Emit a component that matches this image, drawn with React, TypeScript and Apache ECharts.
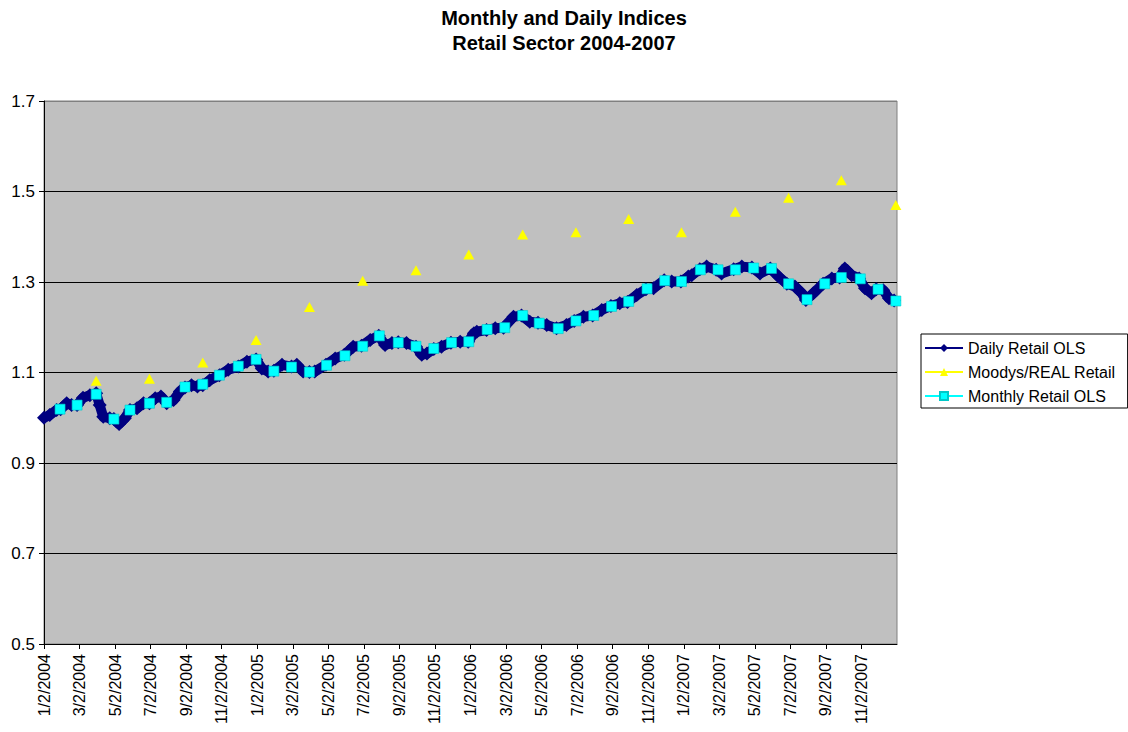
import React, { useEffect, useRef } from "react";
import * as echarts from "echarts";

const TITLE_LINES = ["Monthly and Daily Indices", "Retail Sector 2004-2007"];
const SERIES_NAMES = ["Daily Retail OLS", "Moodys/REAL Retail", "Monthly Retail OLS"];
const SERIES_COLORS = ["#000080", "#FFFF00", "#00FFFF"];
const Y_MIN = 0.5;
const Y_MAX = 1.7;
const Y_STEP = 0.2;
const X_MIN_MONTHS = 0; // 1/2/2004
const X_MAX_MONTHS = 48; // 1/2/2008
const X_STEP_MONTHS = 2;

const DAILY_DATES = [
  "1/2/2004", "1/12/2004", "1/24/2004", "1/31/2004", "2/10/2004", "2/18/2004", "2/27/2004",
  "3/8/2004", "3/20/2004", "3/31/2004", "4/6/2004", "4/12/2004", "4/23/2004", "4/30/2004",
  "5/9/2004", "5/19/2004", "5/28/2004", "6/9/2004", "6/20/2004", "6/30/2004", "7/10/2004",
  "7/20/2004", "7/30/2004", "8/11/2004", "8/22/2004", "8/31/2004", "9/11/2004", "9/21/2004",
  "9/30/2004", "10/12/2004", "10/29/2004", "11/13/2004", "11/30/2004", "12/15/2004", "12/31/2004",
  "1/10/2005", "1/21/2005", "1/31/2005", "2/13/2005", "2/28/2005", "3/9/2005", "3/20/2005",
  "3/31/2005", "4/9/2005", "4/28/2005", "5/14/2005", "5/30/2005", "6/14/2005", "6/28/2005",
  "7/13/2005", "7/28/2005", "8/8/2005", "8/20/2005", "8/31/2005", "9/14/2005", "9/30/2005",
  "10/10/2005", "10/19/2005", "10/31/2005", "11/13/2005", "11/29/2005", "12/15/2005", "12/29/2005",
  "1/8/2006", "1/13/2006", "1/30/2006", "2/13/2006", "2/26/2006", "3/15/2006", "3/29/2006",
  "4/12/2006", "4/26/2006", "5/11/2006", "5/28/2006", "6/14/2006", "6/27/2006", "7/13/2006",
  "7/29/2006", "8/14/2006", "8/30/2006", "9/14/2006", "9/27/2006", "10/13/2006", "10/29/2006",
  "11/11/2006", "11/29/2006", "12/12/2006", "12/28/2006", "1/10/2007", "1/16/2007", "1/30/2007",
  "2/10/2007", "2/25/2007", "3/6/2007", "3/27/2007", "4/10/2007", "4/27/2007", "5/11/2007",
  "5/29/2007", "6/12/2007", "6/26/2007", "7/10/2007", "7/22/2007", "7/29/2007", "8/11/2007",
  "8/28/2007", "9/12/2007", "9/25/2007", "10/4/2007", "10/16/2007", "10/29/2007", "11/8/2007",
  "11/19/2007", "11/27/2007", "12/9/2007", "12/19/2007", "12/28/2007",
];
const DAILY_VALUES = [
  1.0, 1.006, 1.017, 1.019, 1.032, 1.028, 1.028,
  1.044, 1.05, 1.054, 1.028, 1.002, 0.999, 0.997,
  0.986, 0.999, 1.017, 1.021, 1.032, 1.032, 1.043,
  1.047, 1.032, 1.039, 1.058, 1.067, 1.072, 1.069,
  1.072, 1.083, 1.094, 1.106, 1.113, 1.124, 1.129,
  1.109, 1.102, 1.104, 1.117, 1.113, 1.117, 1.102,
  1.101, 1.102, 1.117, 1.131, 1.139, 1.157, 1.159,
  1.172, 1.181, 1.161, 1.165, 1.167, 1.165, 1.157,
  1.139, 1.142, 1.152, 1.157, 1.166, 1.168, 1.168,
  1.187, 1.19, 1.194, 1.198, 1.199, 1.223, 1.226,
  1.212, 1.21, 1.205, 1.198, 1.205, 1.214, 1.223,
  1.226, 1.238, 1.247, 1.253, 1.256, 1.271, 1.284,
  1.286, 1.304, 1.301, 1.301, 1.312, 1.315, 1.328,
  1.334, 1.327, 1.319, 1.328, 1.334, 1.332, 1.319,
  1.33, 1.312, 1.296, 1.29, 1.275, 1.26, 1.275,
  1.296, 1.308, 1.31, 1.33, 1.315, 1.308, 1.286,
  1.275, 1.284, 1.282, 1.264, 1.259,
];

const MONTHLY_DATES = [
  "1/30/2004", "2/27/2004", "3/31/2004", "4/30/2004", "5/28/2004", "6/30/2004",
  "7/30/2004", "8/31/2004", "9/30/2004", "10/29/2004", "11/30/2004", "12/31/2004",
  "1/31/2005", "2/28/2005", "3/31/2005", "4/29/2005", "5/31/2005", "6/30/2005",
  "7/29/2005", "8/31/2005", "9/30/2005", "10/31/2005", "11/30/2005", "12/30/2005",
  "1/31/2006", "2/28/2006", "3/31/2006", "4/28/2006", "5/31/2006", "6/30/2006",
  "7/31/2006", "8/31/2006", "9/29/2006", "10/31/2006", "11/30/2006", "12/29/2006",
  "1/31/2007", "2/28/2007", "3/30/2007", "4/30/2007", "5/31/2007", "6/29/2007",
  "7/31/2007", "8/31/2007", "9/28/2007", "10/31/2007", "11/30/2007", "12/31/2007",
];
const MONTHLY_VALUES = [
  1.019, 1.028, 1.052, 0.997, 1.017, 1.032,
  1.034, 1.068, 1.074, 1.094, 1.114, 1.129,
  1.103, 1.112, 1.101, 1.116, 1.137, 1.158,
  1.181, 1.166, 1.158, 1.153, 1.166, 1.168,
  1.195, 1.199, 1.226, 1.209, 1.197, 1.214,
  1.226, 1.246, 1.257, 1.285, 1.303, 1.301,
  1.327, 1.327, 1.327, 1.331, 1.33, 1.296,
  1.261, 1.296, 1.31, 1.307, 1.284, 1.258,
];

const QUARTER_DATES = [
  "3/31/2004", "6/30/2004", "9/30/2004", "12/31/2004",
  "3/31/2005", "6/30/2005", "9/30/2005", "12/30/2005",
  "3/31/2006", "6/30/2006", "9/29/2006", "12/29/2006",
  "3/30/2007", "6/29/2007", "9/28/2007", "12/31/2007",
];
const MOODYS_VALUES = [
  1.082, 1.086, 1.122, 1.172,
  1.245, 1.303, 1.326, 1.361,
  1.405, 1.41, 1.439, 1.41,
  1.455, 1.486, 1.525, 1.47,
];

const BASE_YEAR = 2004;

function monthsFromStart(date: string): number {
  const [m, d, y] = date.split("/").map(Number);
  const dim = new Date(y, m, 0).getDate();
  return (y - BASE_YEAR) * 12 + (m - 1) + (d - 2) / dim;
}

function tickLabel(t: number): string {
  const k = Math.round(t);
  const y = BASE_YEAR + Math.floor(k / 12);
  const m = (k % 12) + 1;
  return `${m}/2/${y}`;
}

const FONT = "'Liberation Sans', Arial, sans-serif";

export default function App() {
  const ref = useRef<HTMLDivElement>(null);

  useEffect(() => {
    document.body.style.margin = "0";
    if (!ref.current) return;
    const chart = echarts.init(ref.current, null, { renderer: "svg" });

    const daily = DAILY_DATES.map((d, i) => [monthsFromStart(d), DAILY_VALUES[i]]);
    const monthly = MONTHLY_DATES.map((d, i) => [monthsFromStart(d), MONTHLY_VALUES[i]]);
    const moodys = QUARTER_DATES.map((d, i) => [monthsFromStart(d), MOODYS_VALUES[i]]);

    const nLines = Math.round((Y_MAX - Y_MIN) / Y_STEP) + 1;
    const splitColors = Array.from({ length: nLines }, (_, i) => (i === nLines - 1 ? "#808080" : "#000000"));

    chart.setOption({
      animation: false,
      backgroundColor: "#ffffff",
      title: {
        text: TITLE_LINES.join("\n"),
        left: "center",
        top: 0,
        textStyle: {
          fontFamily: FONT,
          fontSize: 20,
          fontWeight: "bold",
          color: "#000",
          lineHeight: 25,
        },
      },
      legend: {
        orient: "vertical",
        left: 921,
        top: 334,
        padding: [6, 12, 4, 3],
        itemGap: 8,
        itemWidth: 38,
        itemHeight: 10,
        borderColor: "#000",
        borderWidth: 1,
        borderRadius: 0,
        backgroundColor: "#fff",
        textStyle: { fontFamily: FONT, fontSize: 16, color: "#000" },
        data: [
          { name: SERIES_NAMES[0], lineStyle: { width: 2, opacity: 1, color: SERIES_COLORS[0] } },
          { name: SERIES_NAMES[1], lineStyle: { width: 2, opacity: 1, color: SERIES_COLORS[1] } },
          { name: SERIES_NAMES[2], lineStyle: { width: 2, opacity: 1, color: SERIES_COLORS[2] } },
        ],
      },
      grid: {
        left: 44,
        right: 231,
        top: 101,
        bottom: 88,
        show: true,
        backgroundColor: "#C0C0C0",
        borderColor: "#808080",
        borderWidth: 1,
      },
      xAxis: {
        type: "value",
        min: X_MIN_MONTHS,
        max: X_MAX_MONTHS,
        interval: X_STEP_MONTHS,
        axisLine: { show: true, lineStyle: { color: "#000", width: 1 } },
        axisTick: { show: true, length: 5, lineStyle: { color: "#000" } },
        splitLine: { show: false },
        axisLabel: {
          rotate: 90,
          margin: 10,
          showMaxLabel: false,
          fontFamily: FONT,
          fontSize: 16,
          color: "#000",
          formatter: (v: number) => tickLabel(v),
        },
      },
      yAxis: {
        type: "value",
        min: Y_MIN,
        max: Y_MAX,
        interval: Y_STEP,
        axisLine: { show: true, lineStyle: { color: "#000", width: 1 } },
        axisTick: { show: true, length: 5, lineStyle: { color: "#000" } },
        splitLine: { show: true, lineStyle: { color: splitColors, width: 1 } },
        axisLabel: {
          margin: 9,
          fontFamily: FONT,
          fontSize: 17,
          color: "#000",
          formatter: (v: number) => v.toFixed(1),
        },
      },
      series: [
        {
          name: SERIES_NAMES[0],
          type: "line",
          data: daily,
          symbol: "diamond",
          symbolSize: 14,
          showAllSymbol: true,
          itemStyle: { color: SERIES_COLORS[0] },
          lineStyle: { color: SERIES_COLORS[0], width: 10, join: "round" },
          z: 2,
          silent: true,
        },
        {
          name: SERIES_NAMES[1],
          type: "line",
          data: moodys,
          symbol: "triangle",
          symbolSize: [11, 10],
          showAllSymbol: true,
          itemStyle: { color: SERIES_COLORS[1] },
          lineStyle: { color: SERIES_COLORS[1], width: 0, opacity: 0 },
          z: 3,
          silent: true,
        },
        {
          name: SERIES_NAMES[2],
          type: "line",
          data: monthly,
          symbol: "rect",
          symbolSize: 10,
          showAllSymbol: true,
          itemStyle: { color: SERIES_COLORS[2], borderColor: "#00C8C8", borderWidth: 0.6 },
          lineStyle: { color: SERIES_COLORS[2], width: 0, opacity: 0 },
          z: 4,
          silent: true,
        },
      ],
    });

    return () => chart.dispose();
  }, []);

  return <div ref={ref} style={{ width: 1128, height: 732 }} />;
}
